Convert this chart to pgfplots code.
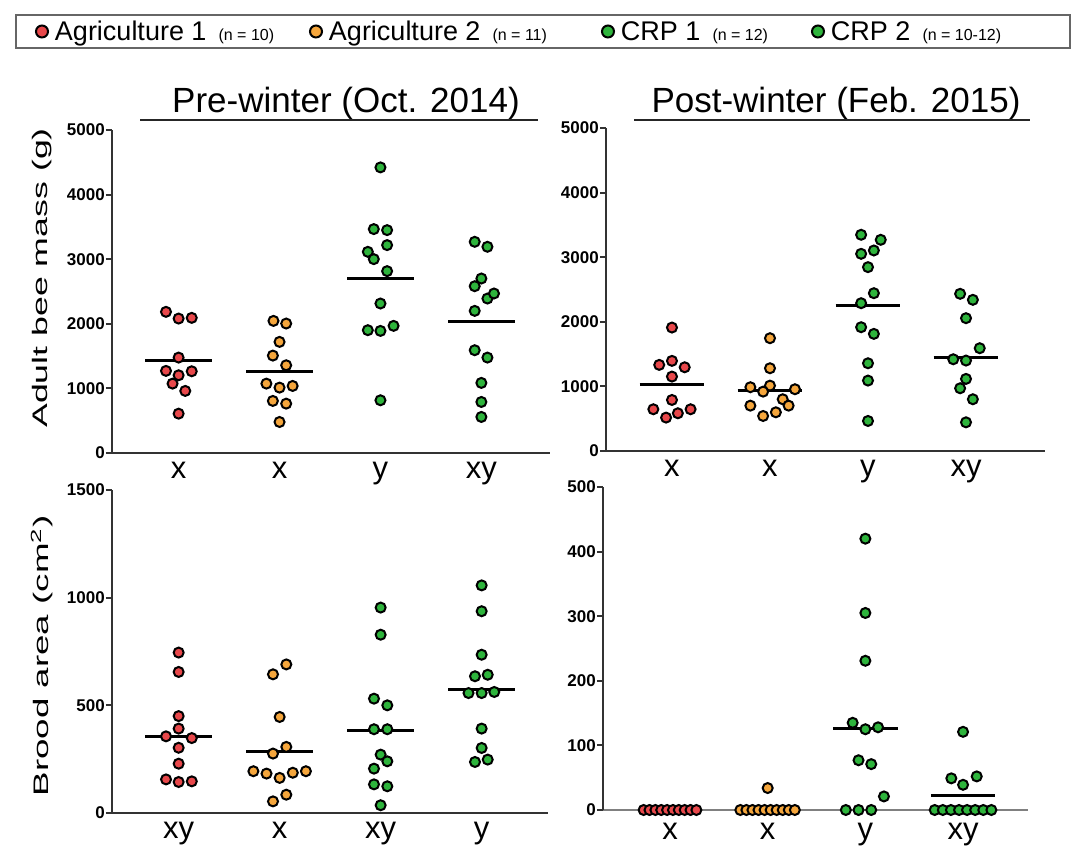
\documentclass[border=0pt]{standalone}
\usepackage{pgfplots}
\pgfplotsset{compat=1.18}
\usepackage{fontspec}
\setmainfont{Liberation Sans}
\setsansfont{Liberation Sans}

\definecolor{cred}{RGB}{232,72,75}
\definecolor{corange}{RGB}{245,166,60}
\definecolor{cgreen}{RGB}{46,180,60}

\pgfplotsset{
  beeax/.style={
    scale only axis, height=323pt,
    axis lines=left,
    axis line style={-, line width=2.5pt, black!80},
    clip=false, ymin=0,
    xtick={0,1,2,3}, xtick style={draw=none},
    ytick style={line width=2pt, black!80},
    tick align=outside, major tick length=6pt,
    yticklabel style={font=\fontsize{17}{17}\selectfont\bfseries, inner sep=1pt,
      /pgf/number format/1000 sep={}, /pgf/number format/assume math mode=true},
    xticklabel style={font=\fontsize{31}{31}\selectfont, inner sep=0pt, yshift=-3pt},
  },
  dots/.style={only marks, mark=*, mark size=5pt,
    mark options={fill=#1, draw=black, line width=2pt}, forget plot},
  meanline/.style={black, line width=3pt, no marks, forget plot},
  legdot/.style={only marks, mark=*, mark size=6pt,
    mark options={fill=#1, draw=black, line width=2pt}},
}
\newcommand{\ns}[1]{{\fontsize{16}{16}\selectfont #1}}

\begin{document}
\begin{tikzpicture}[x=1pt,y=1pt]
\useasboundingbox (0,0) rectangle (1077,846);

% ---- Adult bee mass, pre-winter
\begin{axis}[beeax, at={(112pt,393pt)}, anchor=south west,
    width=438pt, xmin=-0.66, xmax=3.68, ymax=5000,
    ytick={0,1000,2000,3000,4000,5000},
    xticklabels={x,x,y,xy},
    legend style={at={(0.984,1.305)}, anchor=center, draw=black!60, line width=1.5pt,
      font=\fontsize{27}{27}\selectfont, legend columns=4,
      inner xsep=20pt, inner ysep=4pt,
      /tikz/every even column/.append style={column sep=0pt}},
    ]
\addlegendimage{legdot=cred}
\addlegendentry{\makebox[258pt][l]{\hspace{5pt}Agriculture 1\hspace{12pt}\ns{(n = 10)}}}
\addlegendimage{legdot=corange}
\addlegendentry{\makebox[276pt][l]{\hspace{5pt}Agriculture 2\hspace{12pt}\ns{(n = 11)}}}
\addlegendimage{legdot=cgreen}
\addlegendentry{\makebox[194pt][l]{\hspace{5pt}CRP 1\hspace{12pt}\ns{(n = 12)}}}
\addlegendimage{legdot=cgreen}
\addlegendentry{\makebox[222pt][l]{\hspace{5pt}CRP 2\hspace{12pt}\ns{(n = 10-12)}}}

\addplot[meanline] coordinates {(-0.33,1425) (0.33,1425)};
\addplot[meanline] coordinates {(0.67,1255) (1.33,1255)};
\addplot[meanline] coordinates {(1.67,2695) (2.33,2695)};
\addplot[meanline] coordinates {(2.67,2028) (3.33,2028)};
\addplot[dots=cred] coordinates {
  (-0.125,2185) (0,2081) (0.13,2092) (0,1477) (-0.125,1271) (0,1203)
  (0.13,1265) (-0.06,1074) (0.066,961) (0,609)};
\addplot[dots=corange] coordinates {
  (0.94,2045) (1.066,2004) (1,1720) (0.934,1508) (1.066,1358) (0.87,1074)
  (1,1012) (1.13,1038) (0.934,806) (1.066,764) (1,480)};
\addplot[dots=cgreen] coordinates {
  (2,4421) (1.934,3466) (2.066,3450) (2.066,3218) (1.875,3114) (1.934,3001)
  (2.066,2815) (2,2314) (1.875,1901) (2,1890) (2.13,1968) (2,816)};
\addplot[dots=cgreen] coordinates {
  (2.934,3269) (3.06,3192) (3,2701) (2.934,2582) (3.06,2391) (3.125,2469)
  (2.934,2200) (2.934,1591) (3.06,1477) (3,1085) (3,790) (3,558)};
\end{axis}

% ---- Adult bee mass, post-winter
\begin{axis}[beeax, at={(606pt,395pt)}, anchor=south west,
    width=439pt, xmin=-0.673, xmax=3.806, ymax=5000,
    ytick={0,1000,2000,3000,4000,5000},
    xticklabels={x,x,y,xy},
    ]
\addplot[meanline] coordinates {(-0.33,1022) (0.33,1022)};
\addplot[meanline] coordinates {(0.67,930) (1.33,930)};
\addplot[meanline] coordinates {(1.67,2250) (2.33,2250)};
\addplot[meanline] coordinates {(2.67,1454) (3.33,1454)};
\addplot[dots=cred] coordinates {
  (0,1911) (-0.13,1333) (0,1395) (0.13,1296) (0,1152) (0,790)
  (-0.19,646) (0.19,646) (-0.06,517) (0.06,584)};
\addplot[dots=corange] coordinates {
  (1,1746) (1,1281) (0.8,987) (1,1012) (0.93,919) (1.255,956)
  (1.13,801) (0.8,702) (1.19,702) (0.93,542) (1.06,599)};
\addplot[dots=cgreen] coordinates {
  (1.93,3347) (2.13,3269) (1.93,3052) (2.06,3104) (2,2846) (2.06,2443)
  (1.93,2288) (1.93,1916) (2.06,1813) (2,1358) (2,1090) (2,465)};
\addplot[dots=cgreen] coordinates {
  (2.94,2433) (3.07,2340) (3,2056) (3.14,1591) (2.87,1420) (3,1400)
  (3,1116) (2.94,971) (3.07,801) (3,444)};
\end{axis}

% ---- Brood area, pre-winter
\begin{axis}[beeax, at={(112pt,33pt)}, anchor=south west,
    width=436pt, xmin=-0.66, xmax=3.657, ymax=1500,
    ytick={0,500,1000,1500},
    xticklabels={xy,x,xy,y},
    ]
\addplot[meanline] coordinates {(-0.33,357) (0.33,357)};
\addplot[meanline] coordinates {(0.67,285) (1.33,285)};
\addplot[meanline] coordinates {(1.67,383) (2.33,383)};
\addplot[meanline] coordinates {(2.67,572) (3.33,572)};
\addplot[dots=cred] coordinates {
  (0,745) (0,655) (0,450) (0,392) (-0.125,356) (0.13,348)
  (0,303) (0,229) (-0.125,156) (0,144) (0.13,147)};
\addplot[dots=corange] coordinates {
  (1.066,690) (0.934,644) (1,446) (1.066,307) (0.934,276) (0.74,194)
  (0.87,183) (1,163) (1.13,187) (1.26,194) (1.066,85) (0.934,54)};
\addplot[dots=cgreen] coordinates {
  (2,954) (2,828) (1.934,531) (2.066,500) (1.934,389) (2.066,389)
  (2,271) (2.066,240) (1.934,206) (1.934,133) (2.066,124) (2,36)};
\addplot[dots=cgreen] coordinates {
  (3,1057) (3,937) (3,735) (2.934,635) (3.06,642) (2.87,557)
  (3,557) (3.125,562) (3,392) (3,302) (2.934,237) (3.06,248)};
\end{axis}

% ---- Brood area, post-winter
\begin{axis}[beeax, at={(603pt,36pt)}, anchor=south west,
    width=425pt, xmin=-0.686, xmax=3.665, ymax=500,
    ytick={0,100,200,300,400,500},
    xticklabels={x,x,y,xy},
    x axis line style={line width=1.5pt, black!50},
    xticklabel style={yshift=-4pt},
    ]
\addplot[meanline] coordinates {(1.67,126) (2.33,126)};
\addplot[meanline] coordinates {(2.67,22) (3.33,22)};
\addplot[dots=cred] coordinates {
  (-0.27,0) (-0.21,0) (-0.15,0) (-0.09,0) (-0.03,0)
  (0.03,0) (0.09,0) (0.15,0) (0.21,0) (0.27,0)};
\addplot[dots=corange] coordinates {
  (1,34) (0.72,0) (0.782,0) (0.844,0) (0.906,0) (0.968,0)
  (1.03,0) (1.092,0) (1.154,0) (1.216,0) (1.278,0)};
\addplot[dots=cgreen] coordinates {
  (2,420) (2,305) (2,231) (1.87,135) (2,125) (2.13,128)
  (1.93,77) (2.06,71) (2.19,21) (1.8,0) (1.93,0) (2.06,0)};
\addplot[dots=cgreen] coordinates {
  (3,121) (2.88,49) (3.14,52) (3,39)
  (2.71,0) (2.793,0) (2.876,0) (2.959,0) (3.041,0) (3.124,0) (3.207,0) (3.29,0)};
\end{axis}

% titles and y labels
\node[font=\fontsize{35}{35}\selectfont, anchor=base] at (346,733) {Pre-winter (Oct. 2014)};
\draw[line width=1.8pt, black!85] (140,726) -- (538,726);
\node[font=\fontsize{35}{35}\selectfont, anchor=base] at (836,733) {Post-winter (Feb. 2015)};
\draw[line width=1.8pt, black!85] (634,726) -- (1030,726);
\node[font=\fontsize{21}{21}\selectfont, rotate=90, xscale=1.7] at (42,568) {Adult bee mass (g)};
\node[font=\fontsize{21}{21}\selectfont, rotate=90, xscale=1.75] at (42,190) {Brood area (cm\textsuperscript{2})};
\end{tikzpicture}
\end{document}
